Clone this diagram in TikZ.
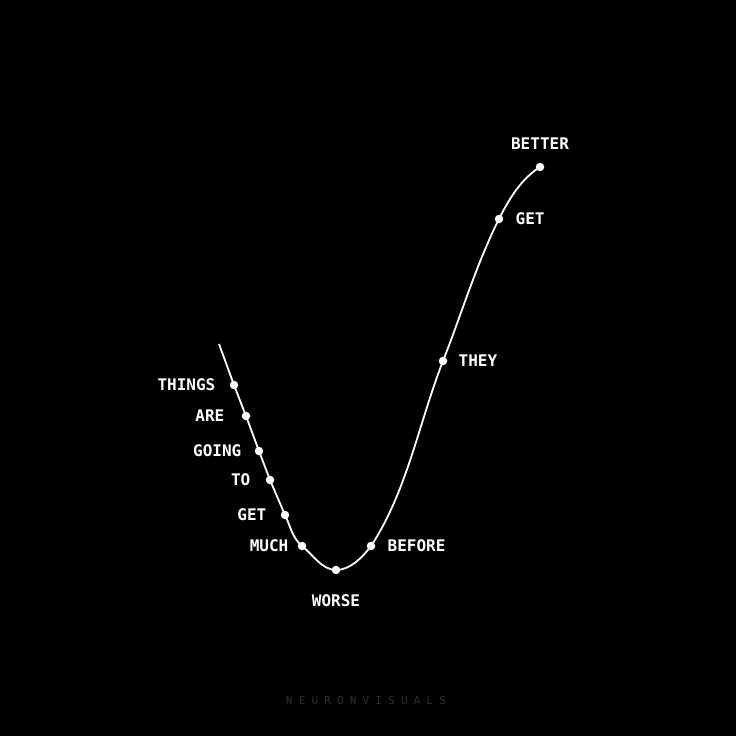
\documentclass[tikz,border=0pt]{standalone}
\usepackage{fontspec}
\setmonofont{DejaVu Sans Mono}
\usetikzlibrary{positioning}

\begin{document}
\begin{tikzpicture}[x=1pt,y=-1pt,
  dot/.style={circle,fill=white,inner sep=0pt,minimum size=8.5pt},
  word/.style={text=white,inner sep=0pt,font=\ttfamily\bfseries\fontsize{16}{16}\selectfont},
  curve/.style={white,line width=1.8pt,line join=round}]
  \fill[black] (0,0) rectangle (736,736);
  \useasboundingbox (0,0) rectangle (736,736);
  \coordinate (start) at (219,344);
  \node[dot] (things) at (234,385) {};
  \node[dot] (are) at (246,416) {};
  \node[dot] (going) at (259,451) {};
  \node[dot] (to) at (270,480) {};
  \node[dot] (get1) at (285,515) {};
  \node[dot] (much) at (302,546) {};
  \node[dot] (worse) at (336,570) {};
  \node[dot] (before) at (371,546) {};
  \node[dot] (they) at (443,361) {};
  \node[dot] (get2) at (499,219) {};
  \node[dot] (better) at (540,167) {};
  \draw[curve] (start) -- (things.center) -- (are.center) -- (going.center) -- (to.center) -- (get1.center)
    .. controls +(5.1,10.6) and +(-9.2,-7.3) .. (much.center)
    .. controls +(10.8,8.6) and +(-13.9,0) .. (worse.center)
    .. controls +(14.2,0) and +(-8.5,11.4) .. (before.center)
    .. controls +(36,-54.5) and +(-24,61.4) .. (they.center)
    .. controls +(18.6,-47.3) and +(-22.8,45.5) .. (get2.center)
    .. controls +(9.8,-19.7) and +(-18.7,11.7) .. (better.center);
  \node[word,left=14pt of things] {THINGS};
  \node[word,left=17pt of are] {ARE};
  \node[word,left=13pt of going] {GOING};
  \node[word,left=15pt of to] {TO};
  \node[word,left=14pt of get1] {GET};
  \node[word,left=9pt of much] {MUCH};
  \node[word,below=20pt of worse] {WORSE};
  \node[word,right=12pt of before] {BEFORE};
  \node[word,right=11pt of they] {THEY};
  \node[word,right=12pt of get2] {GET};
  \node[word,above=13pt of better] {BETTER};
  \node[text=white!18!black,font=\ttfamily\fontsize{11}{11}\selectfont\addfontfeatures{LetterSpace=56}] (mark) at (366,700) {NEURONVISUALS};
\end{tikzpicture}
\end{document}
